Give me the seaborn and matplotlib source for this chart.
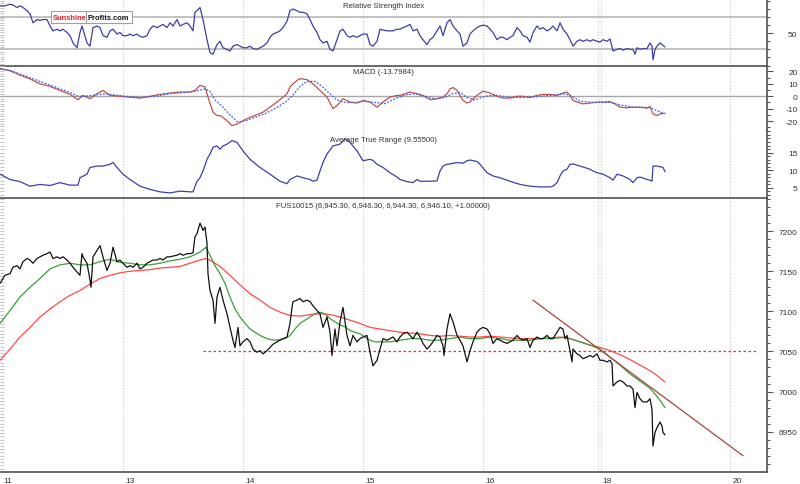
import matplotlib
matplotlib.use('Agg')
import matplotlib.pyplot as plt
import matplotlib.transforms as mtransforms
from matplotlib.ticker import MultipleLocator, NullFormatter
import seaborn as sns
import pandas as pd

# ---- data (bar index = 12-minute bars, 5 per hour) ----
day_ticks = [1, 123, 243, 363, 483, 600, 730]
day_labels = ['11', '13', '14', '15', '16', '18', '20']
day_grid = [123, 243, 363, 483, 598, 601, 730]

price_pts = [
    (0, 7135), (5, 7145), (10, 7147), (13, 7155), (17, 7157), (20, 7153), (23, 7162), (27, 7166),
    (30, 7164), (33, 7160), (37, 7166), (40, 7168), (43, 7170), (47, 7172), (50, 7174), (53, 7166),
    (57, 7168), (60, 7166), (63, 7168), (67, 7164), (70, 7160), (73, 7155), (77, 7149), (80, 7145),
    (82, 7172), (83, 7168), (87, 7160), (90, 7139), (91, 7130), (93, 7168), (97, 7176), (100, 7182),
    (103, 7168), (107, 7151), (110, 7160), (113, 7180), (117, 7162), (120, 7164), (123, 7160),
    (127, 7155), (130, 7157), (133, 7155), (137, 7160), (140, 7153), (143, 7155), (147, 7160),
    (150, 7162), (153, 7164), (157, 7164), (160, 7166), (163, 7164), (167, 7168), (170, 7168),
    (173, 7169), (177, 7170), (180, 7172), (183, 7170), (187, 7172), (190, 7172), (193, 7173),
    (195, 7193), (197, 7197), (200, 7210), (203, 7201), (205, 7205), (207, 7185), (208, 7147),
    (210, 7126), (213, 7114), (215, 7085), (217, 7118), (220, 7130), (223, 7114), (227, 7097),
    (230, 7080), (233, 7064), (235, 7055), (237, 7072), (238, 7080), (240, 7057), (243, 7062),
    (247, 7066), (250, 7062), (253, 7053), (257, 7049), (260, 7051), (263, 7047), (267, 7051),
    (270, 7055), (273, 7059), (277, 7062), (280, 7064), (283, 7066), (287, 7068), (290, 7085),
    (292, 7105), (293, 7112), (297, 7114), (300, 7116), (303, 7112), (307, 7114), (310, 7112),
    (313, 7107), (317, 7101), (320, 7097), (323, 7080), (327, 7093), (330, 7074), (332, 7045),
    (335, 7078), (337, 7057), (340, 7087), (343, 7105), (345, 7087), (347, 7070), (350, 7057),
    (353, 7070), (357, 7062), (360, 7066), (363, 7068), (367, 7070), (370, 7049), (373, 7032),
    (377, 7039), (380, 7053), (383, 7066), (387, 7064), (390, 7066), (393, 7068), (397, 7062),
    (400, 7068), (403, 7072), (407, 7074), (410, 7070), (413, 7066), (417, 7074), (420, 7068),
    (423, 7060), (427, 7053), (430, 7057), (433, 7062), (437, 7070), (440, 7068), (443, 7057),
    (444, 7045), (447, 7078), (450, 7097), (453, 7087), (457, 7070), (460, 7064), (463, 7057),
    (467, 7037), (470, 7051), (473, 7062), (477, 7074), (480, 7078), (483, 7080), (487, 7078),
    (490, 7072), (493, 7060), (497, 7066), (500, 7064), (503, 7062), (507, 7060), (510, 7062),
    (513, 7064), (517, 7070), (520, 7066), (523, 7064), (527, 7066), (530, 7055), (533, 7064),
    (537, 7068), (540, 7066), (543, 7066), (547, 7070), (550, 7066), (553, 7066), (557, 7074),
    (560, 7080), (563, 7078), (565, 7066), (567, 7070), (570, 7051), (572, 7037), (573, 7053),
    (577, 7047), (580, 7045), (583, 7041), (587, 7043), (590, 7045), (593, 7043), (597, 7047),
    (600, 7039), (603, 7039), (607, 7037), (610, 7039), (612, 7035), (613, 7007), (617, 7012),
    (620, 7014), (623, 7012), (627, 7007), (630, 7007), (633, 7003), (635, 6980), (637, 6999),
    (640, 6991), (643, 6987), (647, 6987), (650, 6991), (652, 6978), (653, 6932), (655, 6949),
    (657, 6955), (660, 6962), (662, 6957), (663, 6949), (665, 6946),
]

ma_fast_pts = [
    (0, 7085), (10, 7101), (20, 7118), (30, 7130), (40, 7141), (50, 7153), (60, 7158), (70, 7160),
    (80, 7158), (90, 7158), (100, 7162), (110, 7165), (120, 7161), (130, 7160), (140, 7158),
    (150, 7158), (160, 7160), (170, 7163), (180, 7165), (190, 7168), (200, 7174), (206, 7180),
    (210, 7170), (215, 7157), (220, 7147), (225, 7135), (230, 7118), (235, 7103), (240, 7093),
    (245, 7085), (250, 7078), (255, 7074), (260, 7070), (265, 7067), (270, 7065), (275, 7064),
    (280, 7065), (285, 7066), (290, 7070), (295, 7078), (300, 7085), (305, 7089), (310, 7093),
    (315, 7097), (320, 7099), (325, 7097), (330, 7091), (335, 7087), (340, 7083), (345, 7081),
    (350, 7076), (355, 7074), (360, 7072), (365, 7068), (370, 7064), (375, 7062), (380, 7062),
    (390, 7062), (400, 7064), (410, 7066), (420, 7066), (430, 7064), (440, 7064), (450, 7066),
    (460, 7068), (470, 7066), (480, 7066), (490, 7068), (500, 7066), (510, 7064), (520, 7064),
    (530, 7064), (540, 7066), (550, 7066), (560, 7067), (565, 7068), (570, 7066), (580, 7062),
    (590, 7058), (600, 7053), (610, 7043), (620, 7033), (630, 7022), (640, 7013), (650, 7004),
    (655, 6997), (660, 6989), (665, 6980),
]

ma_slow_pts = [
    (0, 7039), (10, 7053), (20, 7068), (30, 7080), (40, 7093), (50, 7103), (60, 7112), (70, 7120),
    (80, 7126), (90, 7134), (100, 7141), (110, 7145), (120, 7148), (130, 7150), (140, 7151),
    (150, 7152), (160, 7154), (170, 7155), (180, 7156), (190, 7160), (200, 7164), (206, 7166),
    (210, 7164), (215, 7160), (220, 7156), (230, 7145), (240, 7133), (250, 7122), (260, 7114),
    (270, 7105), (280, 7099), (290, 7095), (300, 7094), (310, 7096), (320, 7097), (330, 7096),
    (340, 7093), (350, 7089), (360, 7085), (370, 7080), (380, 7078), (390, 7076), (400, 7074),
    (410, 7073), (420, 7072), (430, 7070), (440, 7069), (450, 7070), (460, 7069), (470, 7068),
    (480, 7068), (490, 7069), (500, 7068), (510, 7067), (520, 7066), (530, 7066), (540, 7066),
    (550, 7067), (560, 7068), (570, 7066), (580, 7062), (590, 7058), (600, 7055), (610, 7051),
    (620, 7046), (630, 7040), (640, 7033), (650, 7026), (655, 7022), (660, 7017), (665, 7012),
]

trend_pts = [(533, 7114), (743, 6920)]
support_pts = [(203, 7050), (757, 7050)]

rsi_pts = [
    (0, 84), (5, 84), (10, 86), (13, 85), (17, 82), (20, 84), (23, 82), (27, 78), (30, 74), (33, 63),
    (37, 67), (40, 66), (43, 67), (47, 67), (50, 59), (53, 53), (57, 55), (60, 53), (63, 55), (67, 51),
    (70, 47), (73, 38), (77, 32), (80, 51), (82, 59), (83, 55), (87, 38), (90, 34), (93, 57), (97, 59),
    (100, 57), (103, 47), (107, 45), (110, 53), (113, 55), (117, 49), (120, 51), (123, 47), (127, 47),
    (130, 49), (133, 47), (137, 49), (140, 46), (143, 45), (147, 47), (150, 55), (153, 59), (157, 57),
    (160, 59), (163, 61), (167, 57), (170, 63), (173, 59), (177, 67), (180, 59), (183, 61), (187, 63),
    (190, 59), (193, 53), (195, 76), (197, 78), (200, 82), (203, 67), (207, 42), (210, 26), (213, 24),
    (217, 36), (220, 40), (223, 32), (227, 30), (230, 28), (233, 34), (237, 36), (240, 34), (243, 32),
    (247, 32), (250, 34), (253, 31), (257, 30), (260, 32), (263, 34), (267, 38), (270, 45), (273, 49),
    (277, 51), (280, 53), (283, 57), (287, 65), (290, 78), (293, 80), (297, 78), (300, 76), (303, 76),
    (307, 74), (310, 67), (313, 59), (317, 51), (320, 42), (323, 38), (327, 40), (330, 30), (333, 28),
    (337, 42), (340, 53), (343, 55), (347, 47), (350, 45), (353, 47), (357, 45), (360, 47), (363, 49),
    (367, 49), (370, 36), (373, 34), (377, 40), (380, 55), (383, 54), (387, 53), (390, 53), (393, 53),
    (397, 55), (400, 55), (403, 57), (407, 59), (410, 61), (413, 53), (417, 55), (420, 47), (423, 42),
    (427, 36), (430, 42), (433, 45), (437, 53), (440, 59), (443, 47), (447, 63), (450, 67), (453, 59),
    (457, 53), (460, 49), (463, 34), (467, 38), (470, 49), (473, 53), (477, 57), (480, 59), (483, 60),
    (487, 59), (490, 55), (493, 51), (497, 42), (500, 45), (503, 45), (507, 42), (510, 45), (513, 47),
    (517, 57), (520, 53), (523, 47), (527, 45), (530, 39), (533, 51), (537, 59), (540, 55), (543, 57),
    (547, 53), (550, 55), (553, 59), (557, 53), (560, 63), (563, 55), (567, 49), (570, 42), (573, 34),
    (577, 40), (580, 42), (583, 40), (587, 42), (590, 40), (593, 42), (597, 40), (600, 39), (603, 42),
    (607, 40), (610, 43), (613, 28), (617, 30), (620, 31), (623, 29), (627, 31), (630, 30), (633, 30),
    (635, 24), (637, 32), (640, 30), (643, 31), (647, 31), (650, 38), (652, 34), (653, 17), (655, 30),
    (657, 34), (660, 38), (663, 35), (665, 33),
]

macd_pts = [
    (0, 22.4), (10, 20.5), (20, 17), (30, 14), (40, 10), (50, 8), (60, 4.7), (70, 1.5), (78, -2.8),
    (83, 0.7), (90, -2), (97, 2), (103, 4.7), (110, 0.7), (120, 0), (130, -0.7), (140, -1.5),
    (150, 0), (160, 1.5), (170, 2.6), (180, 3.4), (190, 3.4), (195, 4.7), (200, 8.8), (205, 7.5),
    (208, -0.7), (213, -12.8), (217, -15.6), (220, -15.6), (223, -17), (227, -19.7), (232, -23.7),
    (237, -22.4), (243, -19.7), (250, -17), (257, -14.8), (263, -12.8), (270, -8.8), (277, -4.7),
    (283, -0.7), (287, 2), (290, 7.5), (293, 10), (297, 12.8), (300, 14.2), (307, 13.4), (313, 10),
    (320, 4.7), (327, -0.7), (333, -10), (337, -7.5), (343, -2), (350, -4.7), (357, -5.5),
    (363, -3.4), (370, -4.7), (377, -8.8), (383, -4.7), (390, -0.7), (397, 0.7), (400, 0.7),
    (410, 3.4), (417, 2), (423, 0.7), (430, -2.8), (437, -2), (443, -0.7), (447, 2), (450, 6),
    (453, 7), (457, 4.7), (460, 0.7), (463, -3.4), (467, -5.5), (470, -4.7), (473, -2), (477, 0.7),
    (483, 4.2), (490, 2.6), (497, 0), (503, -1.5), (510, -1.5), (517, 0), (523, 0), (530, -1),
    (537, 0.7), (543, 1.5), (550, 1.5), (557, 0.7), (563, 2.6), (567, 3.4), (570, 0.7), (573, -3.4),
    (577, -4.7), (583, -6.1), (590, -5.5), (597, -4.7), (603, -4.7), (610, -4.2), (615, -6.1),
    (620, -8.8), (627, -9.3), (633, -8.8), (640, -8.8), (647, -9.6), (650, -8.3), (653, -14.2),
    (657, -15.6), (660, -14.2), (665, -13.8),
]

signal_pts = [
    (0, 22), (10, 21), (20, 18), (30, 15), (40, 12), (50, 9), (60, 6), (70, 3), (78, 0), (85, 0),
    (95, 1), (105, 2), (115, 1), (125, 0), (140, -1), (155, 0), (170, 2), (185, 3), (195, 4),
    (200, 5), (205, 6), (210, 4), (215, -3), (222, -8), (230, -15), (238, -21), (245, -20),
    (255, -17), (265, -14), (275, -10), (285, -5), (292, 0), (300, 8), (307, 12), (315, 12),
    (322, 8), (330, 2), (337, -3), (345, -5), (355, -5), (365, -4), (375, -5), (385, -6), (395, -2),
    (405, 1), (415, 2), (425, 0), (435, -2), (445, -1), (452, 2), (460, 3), (467, -1), (475, -3),
    (485, 0), (495, 1), (510, -1), (525, -1), (540, 0), (555, 1), (565, 2), (572, 0), (580, -4),
    (595, -5), (610, -5), (620, -7), (635, -9), (650, -9), (658, -12), (665, -14),
]

atr_pts = [
    (0, 8.9), (10, 7.4), (20, 6.8), (30, 5.5), (40, 6), (50, 5.7), (60, 6.5), (70, 5.8), (78, 5.8),
    (80, 7.9), (87, 8.9), (90, 10.8), (97, 11.2), (103, 11.2), (110, 11.7), (113, 12.2), (117, 10.8),
    (123, 8.9), (130, 7.4), (140, 5.5), (150, 4.6), (160, 3.9), (170, 3.6), (180, 4.1), (190, 3.9),
    (193, 3.9), (197, 6.9), (200, 7.9), (203, 9.8), (207, 13.1), (210, 14.6), (213, 16.5),
    (217, 16.9), (220, 16), (223, 16.9), (227, 17.4), (232, 18.4), (237, 17.9), (243, 15.5),
    (250, 13.1), (260, 10.8), (270, 8.9), (280, 6.9), (287, 6.2), (290, 7.4), (297, 8.4), (303, 7.9),
    (310, 7.4), (313, 6.9), (317, 7.2), (320, 9.8), (323, 12.2), (327, 14.6), (333, 16.9),
    (340, 17.4), (345, 18.9), (350, 17.9), (357, 15.5), (363, 12.7), (370, 13.1), (373, 12.8),
    (377, 11.7), (383, 10.8), (390, 9.3), (397, 8.1), (400, 7.4), (407, 6.8), (413, 6.5), (417, 7.4),
    (420, 6.9), (430, 6.9), (437, 7), (440, 9.8), (443, 11.2), (447, 11.7), (450, 11.8), (457, 12.2),
    (463, 12), (467, 12.7), (470, 12.9), (477, 12.5), (480, 11.7), (487, 9.3), (493, 8.4), (497, 8.1),
    (500, 7.9), (510, 6.9), (520, 6), (530, 5.5), (540, 5.3), (550, 5.3), (553, 5.5), (557, 6.5),
    (560, 8.4), (563, 9.8), (567, 10.3), (570, 11.7), (573, 11.8), (580, 11.2), (590, 10.3),
    (593, 9.8), (597, 9.3), (603, 8.9), (610, 7.9), (613, 7.2), (617, 8.9), (623, 8.4), (630, 7.4),
    (633, 6.5), (637, 7.9), (640, 8.1), (647, 7.4), (650, 7.2), (652, 6.9), (653, 11.2), (657, 11.2),
    (663, 10.8), (665, 9.6),
]

sns.set_style('white')
plt.rcParams['font.family'] = ['Liberation Sans', 'DejaVu Sans']

W, H = 800, 485
fig = plt.figure(figsize=(8, 4.85), dpi=100)


def frame(pts):
    return pd.DataFrame(pts, columns=['bar', 'value'])


def panel(top, bottom):
    ax = fig.add_axes([0, 1 - bottom / H, 767 / W, (bottom - top) / H])
    ax.set_facecolor('none')
    return ax


def draw(ax, pts, **kw):
    sns.lineplot(data=frame(pts), x='bar', y='value', ax=ax, estimator=None, sort=False, **kw)


def style(ax, ylim, labels, minor, left_step):
    ax.set_xlim(0, 767)
    ax.set_ylim(*ylim)
    ax.set_xlabel('')
    ax.set_ylabel('')
    ax.yaxis.tick_right()
    ax.set_yticks(labels, [str(v) for v in labels])
    ax.yaxis.set_minor_locator(MultipleLocator(minor))
    ax.tick_params(axis='y', which='major', direction='out', length=4.5, width=0.8,
                   color='#555555', labelsize=6, labelcolor='#333333', pad=17.5)
    ax.tick_params(axis='y', which='minor', direction='out', length=2.5, width=0.8, color='#555555')
    plt.setp(ax.get_yticklabels(), ha='right')
    ax.set_xticks([])
    for s in ax.spines.values():
        s.set_color('#505050')
        s.set_linewidth(1.2)
        s.set_zorder(5)
    ax.spines['left'].set_visible(False)
    ax.spines['top'].set_visible(False)
    for g in day_grid:
        ax.axvline(g, color='#c8c8c8', linestyle=(0, (1, 1.5)), linewidth=0.8, zorder=0)
    sec = ax.secondary_yaxis('left')
    sec.yaxis.set_major_locator(MultipleLocator(left_step))
    sec.yaxis.set_major_formatter(NullFormatter())
    sec.tick_params(direction='in', length=3, width=0.7, color='#c4c4c4')
    sec.spines['left'].set_visible(False)


ax_rsi = panel(0, 66.5)
ax_macd = panel(66.5, 131)
ax_atr = panel(131, 198.5)
ax_px = panel(198.5, 472.5)

# RSI
ax_rsi.axhline(70, color='#b8b8b8', linewidth=1.2, zorder=1)
ax_rsi.axhline(30, color='#b8b8b8', linewidth=1.2, zorder=1)
draw(ax_rsi, rsi_pts, color='#3d3fa6', linewidth=0.9)
style(ax_rsi, (10, 92.5), [50], 10, 3)
ax_rsi.text(0.5, 0.895, 'Relative Strength Index', transform=ax_rsi.transAxes,
            ha='center', va='center', fontsize=5.6, color='#333333')

# MACD
ax_macd.axhline(0, color='#a8a8a8', linewidth=1.0, zorder=1)
draw(ax_macd, macd_pts, color='#c0504d', linewidth=0.9)
draw(ax_macd, signal_pts, color='#4060f0', linewidth=0.9, linestyle=(0, (1.5, 1.2)))
style(ax_macd, (-27.2, 24.8), [-20, -10, 0, 10, 20], 5, 2)
ax_macd.spines['bottom'].set_visible(False)
ax_macd.text(0.5, 0.90, 'MACD (-13.7984)', transform=ax_macd.transAxes,
             ha='center', va='center', fontsize=5.6, color='#333333')

# ATR
draw(ax_atr, atr_pts, color='#3d3fa6', linewidth=0.9)
style(ax_atr, (2.3, 21.4), [5, 10, 15], 1, 1)
ax_atr.text(0.5, 0.866, 'Average True Range (9.55500)', transform=ax_atr.transAxes,
            ha='center', va='center', fontsize=5.6, color='#333333')

# price
draw(ax_px, support_pts, color='#d03a3a', linewidth=0.9, linestyle=(0, (2, 2)))
draw(ax_px, ma_slow_pts, color='#ff4a4a', linewidth=0.9)
draw(ax_px, ma_fast_pts, color='#3aa03a', linewidth=0.9)
draw(ax_px, trend_pts, color='#a8463c', linewidth=0.9)
draw(ax_px, price_pts, color='#111111', linewidth=0.9)
style(ax_px, (6900.3, 7242), [6950, 7000, 7050, 7100, 7150, 7200], 10, 4)
ax_px.text(0.5, 0.972, 'FUS10015 (6,945.30, 6,946.30, 6,944.30, 6,946.10, +1.00000)',
           transform=ax_px.transAxes, ha='center', va='center', fontsize=5.6, color='#333333')

ax_px.set_xticks(day_ticks)
ax_px.set_xticklabels([])
ax_px.xaxis.set_minor_locator(MultipleLocator(5))
ax_px.tick_params(axis='x', which='major', direction='out', length=8, width=1.0, color='#555555')
ax_px.tick_params(axis='x', which='minor', direction='out', length=3, width=0.8, color='#555555')
lab_tr = mtransforms.blended_transform_factory(ax_px.transData, ax_px.transAxes)
for d, lab in zip(day_ticks, day_labels):
    ax_px.text(d + 2.5, -0.033, lab, transform=lab_tr, ha='left', va='center',
               fontsize=6, color='#333333')

# logo
fig.text(53 / W, 1 - 18 / H, 'Sunshine', ha='left', va='center', fontsize=5.4,
         fontweight='bold', color='#e0202a',
         bbox=dict(boxstyle='square,pad=0.3', fc='white', ec='#a0a0a0', lw=0.8))
fig.text(88 / W, 1 - 18 / H, 'Profits.com', ha='left', va='center', fontsize=5.4,
         fontweight='bold', color='#111111',
         bbox=dict(boxstyle='square,pad=0.3', fc='white', ec='#a0a0a0', lw=0.8))

fig.savefig('out.png', dpi=100)
